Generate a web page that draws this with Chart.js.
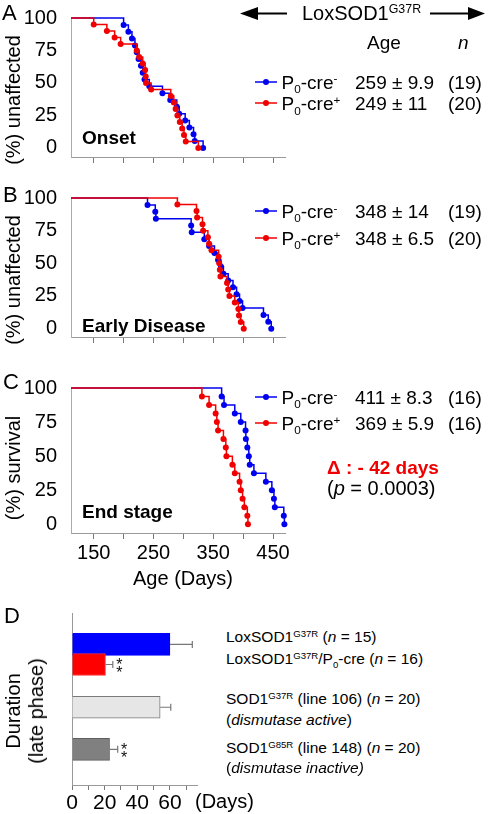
<!DOCTYPE html>
<html><head><meta charset="utf-8">
<script src="https://cdn.jsdelivr.net/npm/chart.js@4.4.1/dist/chart.umd.min.js"></script>
<style>
html,body{margin:0;padding:0;background:#fff;}
body{width:490px;height:814px;position:relative;overflow:hidden;font-family:"Liberation Sans",Arial,Helvetica,sans-serif;color:#000;}
.cv{position:absolute;}
.t{position:absolute;white-space:nowrap;line-height:1;transform:translateY(-50%);}
.c{position:absolute;white-space:nowrap;line-height:1;transform:translate(-50%,-50%);}
.rot{position:absolute;white-space:nowrap;line-height:1;transform:translate(-50%,-50%) rotate(-90deg);}
.sub{font-size:0.62em;position:relative;top:0.38em;}
.sup{font-size:0.62em;position:relative;top:-0.55em;}
.lg{font-size:19px;}
.b{font-weight:bold;}
.i{font-style:italic;}
.dl{font-size:15.5px;left:226px;}
</style></head><body>

<div class="cv" style="left:0;top:0;width:300px;height:175px"><canvas id="cA"></canvas></div>
<div class="cv" style="left:0;top:180px;width:300px;height:175px"><canvas id="cB"></canvas></div>
<div class="cv" style="left:0;top:370px;width:300px;height:230px"><canvas id="cC"></canvas></div>
<div class="cv" style="left:0;top:600px;width:220px;height:214px"><canvas id="cD"></canvas></div>

<!-- panel letters -->
<div class="t" style="left:2px;top:13px;font-size:22px">A</div>
<div class="t" style="left:3px;top:195px;font-size:22px">B</div>
<div class="t" style="left:3px;top:382px;font-size:22px">C</div>
<div class="t" style="left:4px;top:616px;font-size:22px">D</div>

<!-- y titles -->
<div class="rot" style="left:12.5px;top:100px;font-size:20px">(%) unaffected</div>
<div class="rot" style="left:12.5px;top:280px;font-size:20px">(%) unaffected</div>
<div class="rot" style="left:12.5px;top:468px;font-size:20px">(%) survival</div>
<div class="c" style="left:183px;top:578px;font-size:20px">Age (Days)</div>

<!-- panel titles -->
<div class="t b" style="left:82px;top:137px;font-size:19px">Onset</div>
<div class="t b" style="left:82px;top:325px;font-size:19px">Early Disease</div>
<div class="t b" style="left:82px;top:511px;font-size:19px">End stage</div>

<!-- header -->
<svg style="position:absolute;left:236px;top:4px" width="254" height="20">
  <line x1="18" y1="9.5" x2="51" y2="9.5" stroke="#000" stroke-width="2"/>
  <polygon points="4,9.5 22,3 22,16" fill="#000"/>
  <line x1="194" y1="9.5" x2="236" y2="9.5" stroke="#000" stroke-width="2"/>
  <polygon points="249,9.5 232,3 232,16" fill="#000"/>
</svg>
<div class="t" style="left:302px;top:13px;font-size:20px">LoxSOD1<span class="sup">G37R</span></div>
<div class="t" style="left:367px;top:42px;font-size:19px">Age</div>
<div class="t i" style="left:458px;top:42px;font-size:19px">n</div>

<div id="legends"></div>

<div class="t b" style="left:327px;top:467px;font-size:19px;color:#ee0000">&Delta; : - 42 days</div>
<div class="t" style="left:327px;top:488px;font-size:20px">(<span class="i">p</span> = 0.0003)</div>

<!-- panel D -->
<div class="rot" style="left:13px;top:711px;font-size:20px">Duration</div>
<div class="rot" style="left:36px;top:711px;font-size:20px">(late phase)</div>
<div class="t" style="left:195px;top:801px;font-size:20px">(Days)</div>
<div class="t dl" style="top:637px">LoxSOD1<span class="sup">G37R</span> (<span class="i">n</span> = 15)</div>
<div class="t dl" style="top:659px">LoxSOD1<span class="sup">G37R</span>/P<span class="sub">0</span>-cre (<span class="i">n</span> = 16)</div>
<div class="t dl" style="top:699px">SOD1<span class="sup">G37R</span> (line 106) (<span class="i">n</span> = 20)</div>
<div class="t dl" style="top:720px">(<span class="i">dismutase active</span>)</div>
<div class="t dl" style="top:748px">SOD1<span class="sup">G85R</span> (line 148) (<span class="i">n</span> = 20)</div>
<div class="t dl" style="top:768px">(<span class="i">dismutase inactive)</span></div>

<script>
// ---------- data ----------
const ageTicks = [150, 200, 250, 300, 350, 400, 450];
const ageTickLabels = [150, 250, 350, 450];
const pctTicks = [0, 25, 50, 75, 100];

// A: onset (P0-cre- n=19, P0-cre+ n=20)
const onsetNegDays = [200, 208, 214, 219, 222, 225, 229, 232, 235, 243, 265, 278, 289, 293, 303, 310, 317, 319, 333];
const onsetNegPct  = [94.7, 89.5, 84.2, 78.9, 73.7, 68.4, 63.2, 57.9, 52.6, 47.4, 42.1, 36.8, 31.6, 26.3, 21.1, 15.8, 10.5, 5.3, 0];
const onsetPosDays = [150, 172, 185, 195, 222, 226, 232, 236, 237, 237.5, 246, 279, 284, 287, 290, 294, 298, 301, 304, 325];
const onsetPosPct  = [95, 90, 85, 80, 75, 70, 65, 60, 55, 50, 45, 40, 35, 30, 25, 20, 15, 10, 5, 0];

// B: early disease (P0-cre- n=19, P0-cre+ n=20)
const earlyNegDays = [240, 253, 254, 313, 314, 335, 343, 352, 358, 363, 367, 375, 383, 389, 394, 399, 434, 442, 447];
const earlyNegPct  = [94.7, 89.5, 84.2, 78.9, 73.7, 68.4, 63.2, 57.9, 52.6, 47.4, 42.1, 36.8, 31.6, 26.3, 21.1, 15.8, 10.5, 5.3, 0];
const earlyPosDays = [290, 322, 323, 332, 333, 341, 343, 347, 359, 360, 361, 362, 373, 375, 377, 386, 392, 393, 396, 401];
const earlyPosPct  = [95, 90, 85, 80, 75, 70, 65, 60, 55, 50, 45, 40, 35, 30, 25, 20, 15, 10, 5, 0];

// C: end stage (n=16 each)
const endNegDays = [364, 368, 386, 396, 404, 404.5, 407, 409.5, 411, 418, 438, 448, 451.5, 453, 468, 469];
const endNegPct  = [93.75, 87.5, 81.25, 75, 68.75, 62.5, 56.25, 50, 43.75, 37.5, 31.25, 25, 18.75, 12.5, 6.25, 0];
const endPosDays = [331, 343, 354, 356, 358, 367, 371, 372, 382, 386, 394, 396, 399, 402, 407, 408];
const endPosPct  = [93.75, 87.5, 81.25, 75, 68.75, 62.5, 56.25, 50, 43.75, 37.5, 31.25, 25, 18.75, 12.5, 6.25, 0];

// legends
const legendNames = ['-', '+'];
const onsetAge = ['259 \u00b1 9.9', '249 \u00b1 11'];  const onsetN = ['(19)', '(20)'];
const earlyAge = ['348 \u00b1 14', '348 \u00b1 6.5'];  const earlyN = ['(19)', '(20)'];
const endAge   = ['411 \u00b1 8.3', '369 \u00b1 5.9'];  const endN   = ['(16)', '(16)'];

// D: duration of late phase
const durationGroups = ['LoxSOD1 G37R', 'LoxSOD1 G37R/P0-cre', 'SOD1 G37R (line 106)', 'SOD1 G85R (line 148)'];
const durationDays = [60, 20.5, 54, 23];
const durationErr  = [13.7, 4.5, 6.5, 5];
const durationSig  = ['', '**', '', '**'];
const durTicks = [0, 10, 20, 30, 40, 50, 60, 70];
const durTickLabels = [0, 20, 40, 60];

// ---------- styles ----------
const BLUE = '#0000f0', RED = '#f00000';
const FAM = '"Liberation Sans", Arial, Helvetica, sans-serif';
Chart.defaults.font.family = FAM;
Chart.defaults.color = '#000';

// legend rows (HTML)
(function(){
  const rows = [
    {y:[81.7,103.3], age:onsetAge, n:onsetN},
    {y:[211,238], age:earlyAge, n:earlyN},
    {y:[397,423], age:endAge, n:endN}
  ];
  let h = '';
  rows.forEach(r => {
    [0,1].forEach(k => {
      const col = k === 0 ? BLUE : RED, y = r.y[k];
      h += `<svg style="position:absolute;left:253px;top:${y-7}px" width="26" height="14"><line x1="2" y1="7" x2="24" y2="7" stroke="${col}" stroke-width="1.5"/><circle cx="13" cy="7" r="3" fill="${col}"/></svg>`;
      h += `<div class="t lg" style="left:281.5px;top:${y}px">P<span class="sub">0</span>-cre<span class="sup">${legendNames[k]}</span></div>`;
      h += `<div class="t lg" style="left:355px;top:${y}px">${r.age[k]}</div>`;
      h += `<div class="t lg" style="left:448px;top:${y}px">${r.n[k]}</div>`;
    });
  });
  document.getElementById('legends').innerHTML = h;
})();

function km(days, pct){ return [{x:0, y:100}].concat(days.map((d,i)=>({x:d, y:pct[i]}))); }

function kmChart(id, negD, negP, posD, posP, o){
  const ds = (d, col, ord) => ({
    data: d, borderColor: col, backgroundColor: col, stepped: 'before', borderWidth: 1.5,
    pointRadius: c => c.dataIndex === 0 ? 0 : 3, pointHoverRadius: 0, pointBorderWidth: 0,
    fill: false, tension: 0, order: ord, clip: {left: 0, right: 6, top: 6, bottom: 6}
  });
  new Chart(document.getElementById(id), {
    type: 'line',
    data: {datasets: [ds(km(posD, posP), RED, 1), ds(km(negD, negP), BLUE, 2)]},
    options: {
      responsive: true, maintainAspectRatio: false, animation: false,
      layout: {padding: {top: o.padTop, right: o.padRight, bottom: o.padBottom, left: 0}},
      plugins: {legend: {display: false}, tooltip: {enabled: false}},
      scales: {
        x: {
          type: 'linear', min: 112, max: 470,
          afterBuildTicks: s => { s.ticks = ageTicks.map(v => ({value: v})); },
          afterFit: s => { s.height = o.xH; },
          grid: {drawOnChartArea: false, drawTicks: true, tickLength: 6, color: '#777', lineWidth: 1},
          border: {display: true, color: '#999', width: 1},
          ticks: {display: o.labels, autoSkip: false, maxRotation: 0, padding: 2, color: '#000',
                  font: {size: 20, family: FAM},
                  callback: v => ageTickLabels.includes(v) ? String(v) : ''}
        },
        y: {
          type: 'linear', min: o.yMin, max: 100,
          afterBuildTicks: s => { s.ticks = pctTicks.map(v => ({value: v})); },
          afterFit: s => { s.width = 71; },
          grid: {display: false},
          border: {display: true, color: '#aaa', width: 1},
          ticks: {padding: 6, color: '#000', font: {size: 20, family: FAM}}
        }
      }
    }
  });
}

kmChart('cA', onsetNegDays, onsetNegPct, onsetPosDays, onsetPosPct, {padTop: 11, padRight: 15, padBottom: 5, xH: 8, yMin: -7, labels: false});
kmChart('cB', earlyNegDays, earlyNegPct, earlyPosDays, earlyPosPct, {padTop: 16.7, padRight: 15, padBottom: 0.3, xH: 8, yMin: -6.4, labels: false});
kmChart('cC', endNegDays, endNegPct, endPosDays, endPosPct, {padTop: 14, padRight: 15, padBottom: 0, xH: 67, yMin: -6.4, labels: true});

// Panel D
const rowPos = [1.03, 2.03, 4.16, 6.26];
const barFill = ['#0000ff', '#ff0000', '#e6e6e6', '#808080'];
const barEdge = ['#0000ff', '#ff3030', '#7a7a7a', '#5e5e5e'];
const errPlugin = {
  id: 'errbars',
  afterDatasetsDraw(chart){
    const ctx = chart.ctx, meta = chart.getDatasetMeta(0), xs = chart.scales.x;
    ctx.save();
    meta.data.forEach((bar, i) => {
      const x0 = bar.x, x1 = xs.getPixelForValue(durationDays[i] + durationErr[i]), y = bar.y;
      ctx.strokeStyle = '#777'; ctx.lineWidth = 1.2;
      ctx.beginPath(); ctx.moveTo(x0, y); ctx.lineTo(x1, y);
      ctx.moveTo(x1, y - 3.5); ctx.lineTo(x1, y + 3.5); ctx.stroke();
      if (durationSig[i]) {
        ctx.fillStyle = '#111'; ctx.font = '16px ' + FAM; ctx.textAlign = 'center'; ctx.textBaseline = 'alphabetic';
        const cx = x1 + 6.5;
        ctx.fillText('*', cx, y - 4 + 9.3);
        ctx.fillText('*', cx, y + 4 + 9.3);
      }
    });
    ctx.restore();
  }
};
new Chart(document.getElementById('cD'), {
  type: 'bar',
  data: {labels: durationGroups, datasets: [{
    data: durationDays.map((v, i) => ({x: v, y: rowPos[i]})),
    backgroundColor: barFill, borderColor: barEdge, borderWidth: 1, barThickness: 22
  }]},
  options: {
    indexAxis: 'y', responsive: true, maintainAspectRatio: false, animation: false,
    layout: {padding: {top: 13, right: 22.3, bottom: 0, left: 0}},
    plugins: {legend: {display: false}, tooltip: {enabled: false}},
    scales: {
      x: {
        type: 'linear', min: 0, max: 77,
        afterBuildTicks: s => { s.ticks = durTicks.map(v => ({value: v})); },
        afterFit: s => { s.height = 29; },
        grid: {drawOnChartArea: false, drawTicks: true, tickLength: 5, color: '#777'},
        border: {display: true, color: '#999', width: 1},
        ticks: {autoSkip: false, maxRotation: 0, padding: 1, color: '#000', font: {size: 21, family: FAM},
                callback: v => durTickLabels.includes(v) ? String(v) : ''}
      },
      y: {
        type: 'linear', reverse: true, min: 0, max: 7.5,
        afterFit: s => { s.width = 72; },
        grid: {display: false}, ticks: {display: false},
        border: {display: true, color: '#999', width: 1}
      }
    }
  },
  plugins: [errPlugin]
});
</script>
</body></html>
